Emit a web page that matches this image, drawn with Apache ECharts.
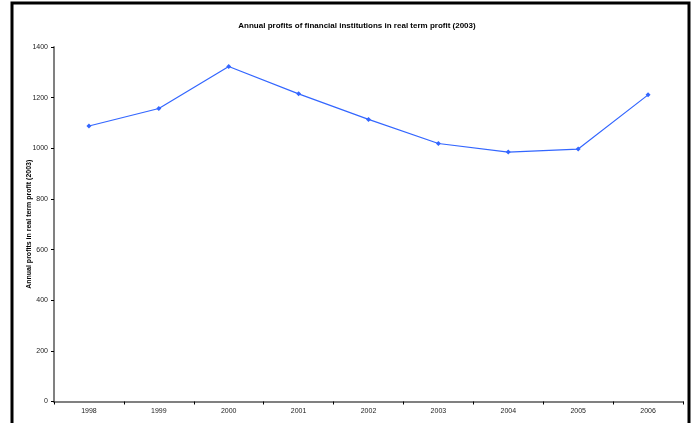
<!DOCTYPE html>
<html><head><meta charset="utf-8">
<script src="https://cdn.jsdelivr.net/npm/echarts@6/dist/echarts.min.js"></script>
<style>html,body{margin:0;padding:0;background:#fff}#c{width:693px;height:423px}</style>
</head><body><div id="c"></div>
<script>
var years = ['1998','1999','2000','2001','2002','2003','2004','2005','2006'];
var profits = [1088, 1157, 1323, 1215, 1114, 1019, 985, 997, 1211];
var yTicks = [0, 200, 400, 600, 800, 1000, 1200, 1400];
var titleText = 'Annual profits of financial institutions in real term profit (2003)';
var yName = 'Annual profits in real term profit (2003)';

var chart = echarts.init(document.getElementById('c'), null, {renderer:'canvas'});
chart.setOption({
  animation:false,
  backgroundColor:'#fff',
  title:{text:titleText,left:352,top:17,textAlign:'center',
    textStyle:{fontFamily:'Liberation Sans',fontSize:8,fontWeight:'bold',color:'#000'}},
  graphic:[{type:'rect',shape:{x:12,y:3,width:677,height:440},
    style:{fill:'none',stroke:'#000',lineWidth:3},silent:true}],
  grid:{left:54,right:10,top:47,bottom:21.5,containLabel:false},
  xAxis:{type:'category',data:years,boundaryGap:true,
    axisLine:{lineStyle:{color:'#808080',width:2}},
    axisTick:{show:true,alignWithLabel:false,length:3,inside:false,lineStyle:{color:'#000',width:1}},
    axisLabel:{fontFamily:'Liberation Sans',fontSize:7,color:'#222',margin:6},
    splitLine:{show:false}},
  yAxis:{type:'value',min:yTicks[0],max:yTicks[yTicks.length-1],interval:200,
    name:yName,nameLocation:'middle',nameGap:21,nameRotate:90,nameMoveOverlap:false,
    nameTextStyle:{fontFamily:'Liberation Sans',fontSize:7,fontWeight:'bold',color:'#000'},
    axisLine:{show:true,lineStyle:{color:'#808080',width:2}},
    axisTick:{show:true,length:3,lineStyle:{color:'#000',width:1}},
    axisLabel:{fontFamily:'Liberation Sans',fontSize:7,color:'#222',margin:6,
      formatter:function(v){return String(v);}},
    splitLine:{show:false}},
  series:[{type:'line',data:profits,symbol:'diamond',symbolSize:5,
    lineStyle:{color:'#3366ff',width:1.2},itemStyle:{color:'#3366ff'}}]
});
</script></body></html>
